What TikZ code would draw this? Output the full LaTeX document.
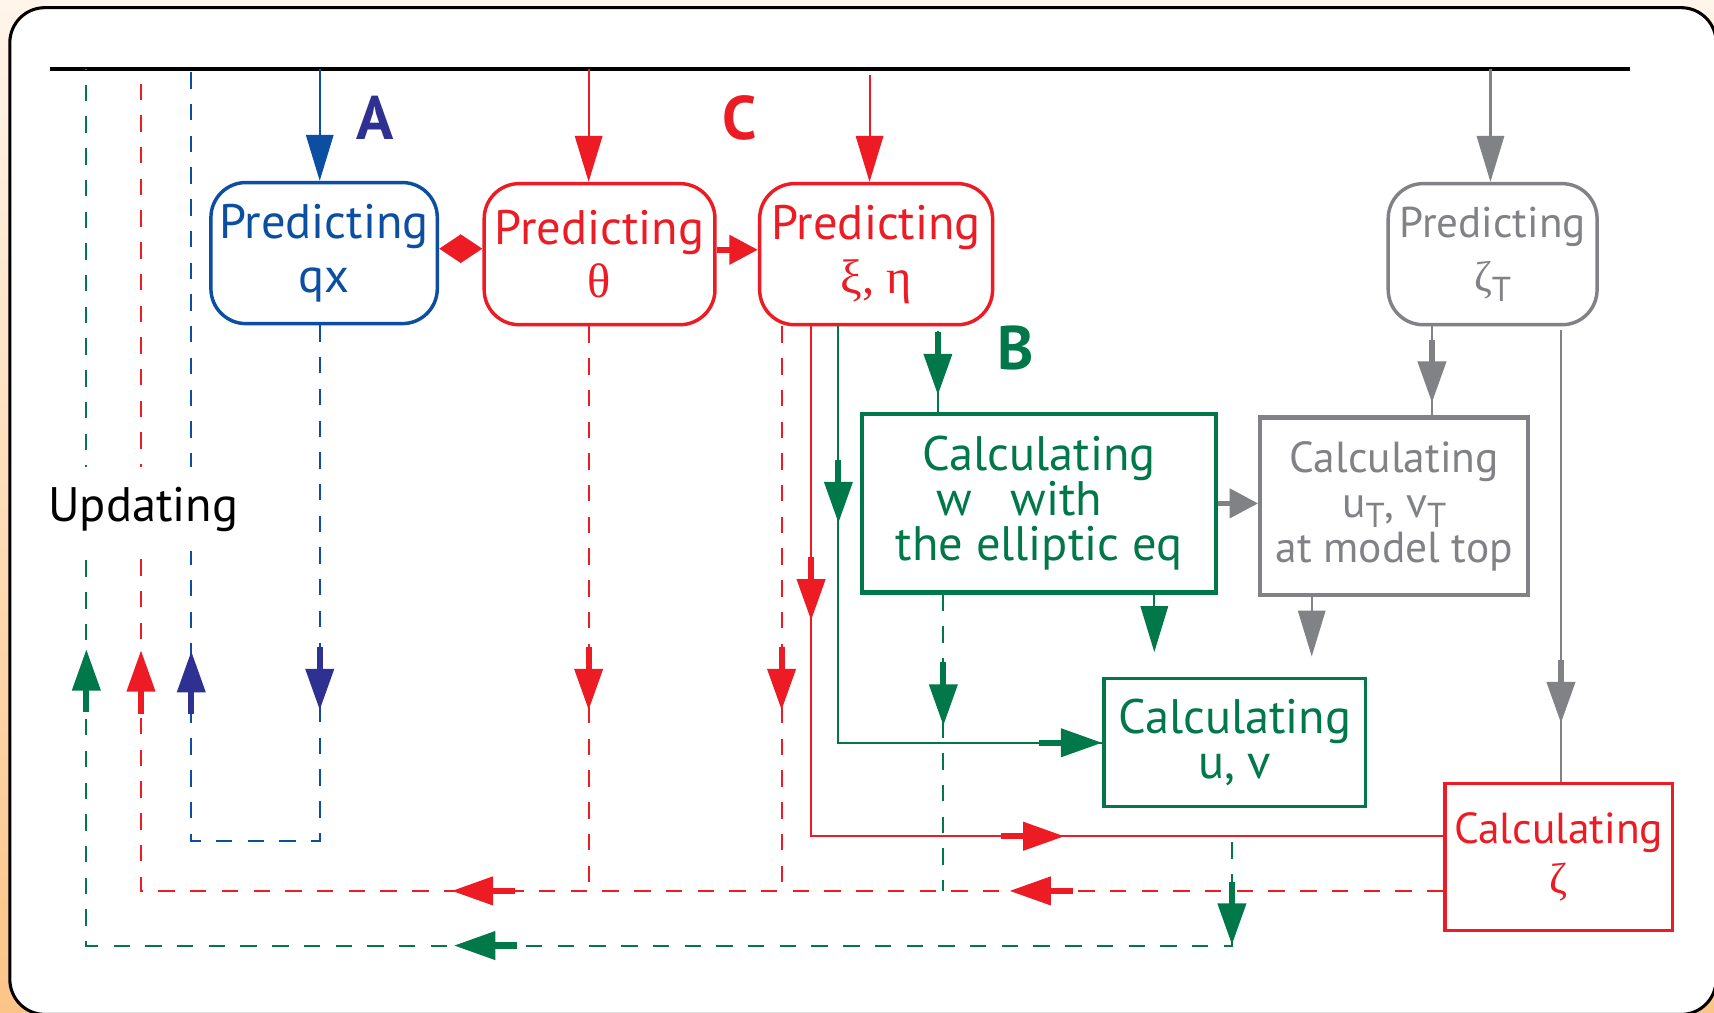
\documentclass[tikz,border=0pt]{standalone}
\usepackage{fontspec}
\setmainfont{PT Sans}
\newfontfamily\grk{Liberation Serif}
\usetikzlibrary{arrows.meta,calc,decorations.markings}

\definecolor{schemeblue}{HTML}{0B4EA2}
\definecolor{schemeindigo}{HTML}{2E3192}
\definecolor{schemered}{HTML}{ED1C24}
\definecolor{schemegreen}{HTML}{00784A}
\definecolor{schemegray}{HTML}{808285}
\definecolor{bgcream}{HTML}{FFF5EA}
\definecolor{bgorange}{HTML}{FDC487}

\newcommand{\subT}{\raisebox{-0.45ex}{\fontsize{9}{9}\selectfont T}}

\tikzset{
  predbox/.style={draw, line width=0.9pt, rounded corners=0.32cm, align=center,
    inner xsep=0pt, minimum height=1.29cm, font=\fontsize{12.6}{14}\selectfont},
  calcbox/.style={draw, align=center, inner xsep=0pt, font=\fontsize{12.6}{11.7}\selectfont},
  head/.style={-{Triangle[length=0.42cm,width=0.25cm]}},
  shorthead/.style={line width=1.5pt,-{Triangle[length=0.26cm,width=0.26cm]}},
  dashline/.style={dash pattern=on 0.15cm off 0.14cm},
  mid/.style 2 args={postaction={decorate,decoration={markings,
      mark=at position #1 with {\draw[solid,line width=1.6pt,#2,
        -{Triangle[length=0.38cm,width=0.25cm]}] (-0.58cm,0) -- (0,0);}}}},
  tag/.style={font=\fontsize{16}{16}\bfseries\selectfont}
}

\begin{document}
\begin{tikzpicture}[x=0.01cm,y=-0.01cm,line width=0.55pt]
\useasboundingbox (0,0) rectangle (1568,926);
\clip (0,0) rectangle (1568,926);
\shade[top color=bgcream,bottom color=bgorange] (0,0) rectangle (1568,926);
\draw[fill=white,line width=0.8pt,rounded corners=0.32cm] (9,7) rectangle (1570,928);

% boxes
\node[predbox,schemeblue,minimum width=2.07cm] (qx) at (296.5,231.5) {Predicting\\qx};
\node[predbox,schemered,minimum width=2.11cm] (th) at (548.5,232.5) {Predicting\\{\grk θ}};
\node[predbox,schemered,minimum width=2.13cm] (xe) at (801.5,232.5) {Predicting\\{\grk ξ, η}};
\node[predbox,schemegray,minimum width=1.91cm,font=\fontsize{11.2}{14}\selectfont] (zt) at (1365.5,232.5) {Predicting\\{\grk ζ}\subT};
\node[calcbox,schemegreen,line width=1.1pt,minimum width=3.23cm,minimum height=1.63cm] (w) at (950.5,460.5) {Calculating\\w~~~with\rule{0.36cm}{0pt}\\the elliptic eq};
\node[calcbox,schemegray,line width=1.1pt,minimum width=2.45cm,minimum height=1.62cm,font=\fontsize{11.3}{11.7}\selectfont] (ut) at (1275.5,463) {Calculating\\u\subT, v\subT\\at model top};
\node[calcbox,schemegreen,line width=0.8pt,minimum width=2.39cm,minimum height=1.17cm] (uv) at (1129.5,679.5) {Calculating\\u, v};
\node[calcbox,schemered,line width=0.8pt,minimum width=2.08cm,minimum height=1.34cm,font=\fontsize{11.3}{13}\selectfont] (zeta) at (1426,784) {Calculating\\{\grk ζ}};

% top line and feeds
\coordinate (tl) at (46,63);
\coordinate (tr) at (1491,63);
\draw[line width=0.9pt] (tl) -- (tr);
\coordinate (qxin) at ($(qx.north)+(-4,0)$);
\coordinate (thin) at ($(th.north)+(-10,0)$);
\coordinate (xein) at ($(xe.north)+(-6,0)$);
\coordinate (ztin) at ($(zt.north)+(-2,0)$);
\draw[schemeblue,head] (qxin |- tl) -- (qxin);
\draw[schemered,head] (thin |- tl) -- (thin);
\draw[schemered,head] ($(xein |- tl)+(0,6)$) -- (xein);
\draw[schemegray,head] (ztin |- tl) -- (ztin);

% between boxes
\draw[schemered,line width=1.5pt,{Triangle[length=0.2cm,width=0.25cm]}-{Triangle[length=0.2cm,width=0.25cm]}] ($(qx.east)+(0,-4)$) -- ($(qx.east -| th.west)+(0,-4)$);
\draw[schemered,shorthead] ($(th.east)+(0,-4)$) -- ($(th.east -| xe.west)+(0,-4)$);
\draw[schemegray,shorthead] (w.east) -- (w.east -| ut.west);

% updating loops
\coordinate (bluel) at (175,769);
\coordinate (redl) at (129,815);
\coordinate (greenl) at (79,865);
\coordinate (qxout) at ($(qx.south)+(-4,0)$);
\draw[schemeblue,dashline,mid={3.52cm}{schemeindigo},mid={7.62cm}{schemeindigo}]
  (qxout) -- (qxout |- bluel) -- (bluel) -- (bluel |- tl);
\coordinate (zin) at ($(zeta.west)+(0,31)$);
\draw[schemered,dashline,mid={3.97cm}{},mid={9.07cm}{},mid={14.11cm}{}]
  (zin) -- (redl) -- (redl |- tl);
\coordinate (thout) at ($(th.south)+(-10,0)$);
\draw[schemered,dashline,mid={3.51cm}{}] (thout) -- (thout |- redl);
\coordinate (xeout1) at ($(xe.south)+(-86.5,0)$);
\draw[schemered,dashline,mid={3.51cm}{}] (xeout1) -- (xeout1 |- redl);
\coordinate (uvout) at ($(uv.south)+(-2.5,31)$);
\draw[schemegreen,dashline,mid={0.94cm}{},mid={8.06cm}{},mid={14.13cm}{}]
  (uvout) -- (uvout |- greenl) -- (greenl) -- (greenl |- tl);
\coordinate (wout1) at ($(w.south)+(-87.5,0)$);
\draw[schemegreen,dashline,mid={1.20cm}{}] (wout1) -- (wout1 |- redl);

% solid flows
\coordinate (xeout2) at ($(xe.south)+(-59.5,0)$);
\coordinate (zin2) at ($(zeta.west)+(0,-19)$);
\draw[schemered,mid={2.69cm}{},mid={6.98cm}{}] (xeout2) -- (xeout2 |- zin2) -- (zin2);
\coordinate (xeout3) at ($(xe.south)+(-34.5,0)$);
\draw[schemegreen,mid={1.80cm}{},mid={1}{}] (xeout3) -- (xeout3 |- uv.west) -- (uv.west);
\coordinate (xeout4) at ($(xe.south)+(56.5,4)$);
\draw[schemegreen,mid={0.59cm}{}] (xeout4) -- (xeout4 |- w.north);
\coordinate (wout2) at ($(w.south)+(105.5,0)$);
\draw[schemegreen,head,shorten >=0.23cm] (wout2) -- (wout2 |- uv.north);
\coordinate (utout) at ($(ut.south)+(-75.5,0)$);
\draw[schemegray,head,shorten >=0.19cm] (utout) -- (utout |- uv.north);
\coordinate (ztout1) at ($(zt.south)+(-55.5,0)$);
\draw[schemegray,mid={0.70cm}{}] (ztout1) -- (ztout1 |- ut.north);
\coordinate (ztout2) at ($(zt.south)+(62.5,3)$);
\draw[schemegray,mid={3.60cm}{}] (ztout2) -- (ztout2 |- zeta.north);

% labels
\node[tag,schemeindigo] (labA) at (343,108) {A};
\node[tag,schemered] (labC) at (677,108) {C};
\node[tag,schemegreen] (labB) at (929,318) {B};
\node[fill=white,inner xsep=0.02cm,inner ysep=0.18cm,font=\fontsize{12.6}{14}\selectfont] (upd) at (131,466) {Updating};
\end{tikzpicture}
\end{document}
